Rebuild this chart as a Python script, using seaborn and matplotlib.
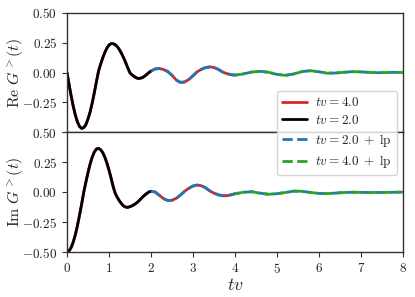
import numpy as np
import pandas as pd
import matplotlib
matplotlib.use("Agg")
import matplotlib.pyplot as plt
import seaborn as sns

# ---- data ----
t_vals = [0.00, 0.05, 0.10, 0.15, 0.20, 0.25, 0.30, 0.35, 0.40, 0.45,
          0.50, 0.55, 0.60, 0.65, 0.70, 0.75, 0.80, 0.85, 0.90, 0.95,
          1.00, 1.05, 1.10, 1.15, 1.20, 1.25, 1.30, 1.35, 1.40, 1.45,
          1.50, 1.55, 1.60, 1.65, 1.70, 1.75, 1.80, 1.85, 1.90, 1.95,
          2.0, 2.1, 2.2, 2.3, 2.4, 2.5, 2.6, 2.7, 2.8, 2.9,
          3.0, 3.1, 3.2, 3.3, 3.4, 3.5, 3.6, 3.7, 3.8, 3.9,
          4.0, 4.2, 4.4, 4.6, 4.8, 5.0, 5.2, 5.4, 5.6, 5.8,
          6.0, 6.2, 6.4, 6.6, 6.8, 7.0, 7.2, 7.4, 7.6, 7.8, 8.0]

re_vals = [0.000, -0.102, -0.199, -0.286, -0.360, -0.417, -0.454, -0.470, -0.463, -0.438,
           -0.390, -0.332, -0.257, -0.171, -0.078, 0.010, 0.069, 0.122, 0.168, 0.205,
           0.231, 0.243, 0.242, 0.233, 0.216, 0.191, 0.159, 0.122, 0.081, 0.036,
           -0.003, -0.021, -0.033, -0.045, -0.050, -0.048, -0.042, -0.030, -0.016, 0.000,
           0.012, 0.030, 0.033, 0.025, 0.008, -0.023, -0.063, -0.083, -0.080, -0.059,
           -0.027, 0.006, 0.027, 0.041, 0.047, 0.042, 0.027, 0.005, -0.009, -0.018,
           -0.022, -0.012, 0.004, 0.010, 0.002, -0.016, -0.024, -0.012, 0.008, 0.015,
           0.006, -0.006, -0.004, 0.002, 0.007, 0.005, 0.001, -0.002, 0.000, 0.001, 0.000]

im_vals = [-0.500, -0.490, -0.462, -0.416, -0.354, -0.278, -0.190, -0.098, 0.000, 0.083,
           0.162, 0.233, 0.290, 0.333, 0.358, 0.363, 0.353, 0.329, 0.291, 0.241,
           0.182, 0.115, 0.044, -0.013, -0.046, -0.075, -0.099, -0.117, -0.126, -0.128,
           -0.122, -0.115, -0.105, -0.093, -0.078, -0.060, -0.042, -0.026, -0.012, 0.000,
           0.006, 0.000, -0.028, -0.056, -0.071, -0.069, -0.053, -0.026, 0.006, 0.031,
           0.050, 0.058, 0.052, 0.035, 0.009, -0.010, -0.023, -0.031, -0.031, -0.024,
           -0.015, -0.002, 0.002, -0.010, -0.019, -0.014, -0.004, 0.007, 0.006, -0.004,
           -0.012, -0.013, -0.009, -0.004, -0.002, -0.003, -0.004, -0.004, -0.003, -0.002, -0.001]

series_labels = [r"$tv = 4.0$", r"$tv = 2.0$", r"$tv = 2.0\;+\;\mathrm{lp}$", r"$tv = 4.0\;+\;\mathrm{lp}$"]
series_ranges = [(0.0, 4.0), (0.0, 2.0), (2.0, 8.0), (4.0, 8.0)]
series_colors = ["#d62728", "#000000", "#1f77b4", "#2ca02c"]
series_styles = ["-", "-", "--", "--"]

x_ticks = [0, 1, 2, 3, 4, 5, 6, 7, 8]
y_ticks = [-0.50, -0.25, 0.00, 0.25, 0.50]

# ---- style ----
sns.set_style("ticks")
plt.rcParams.update({
    "font.family": ["serif", "DejaVu Serif"],
    "font.serif": ["cmr10", "DejaVu Serif"],
    "mathtext.fontset": "cm",
    "axes.formatter.use_mathtext": True,
    "axes.edgecolor": "#333333",
    "axes.linewidth": 1.0,
    "xtick.color": "#333333",
    "ytick.color": "#333333",
    "xtick.labelcolor": "#222222",
    "ytick.labelcolor": "#222222",
})

df = pd.DataFrame({"t": t_vals, "re": re_vals, "im": im_vals})

fig = plt.figure(figsize=(4.15, 2.97), dpi=100)
L, R = 67 / 415, 403 / 415
top_y, mid_y, bot_y = 1 - 13 / 297, 1 - 132 / 297, 1 - 252 / 297
ax1 = fig.add_axes([L, mid_y, R - L, top_y - mid_y])
ax2 = fig.add_axes([L, bot_y, R - L, mid_y - bot_y], sharex=ax1)

for ax, col in [(ax1, "re"), (ax2, "im")]:
    for lab, (a, b), c, ls in zip(series_labels, series_ranges, series_colors, series_styles):
        sub = df[(df["t"] >= a - 1e-9) & (df["t"] <= b + 1e-9)]
        sns.lineplot(data=sub, x="t", y=col, ax=ax, color=c, linestyle=ls,
                     linewidth=2.0, label=lab if ax is ax1 else None,
                     legend=False, estimator=None, sort=True)
    ax.set_xlim(0, 8)
    ax.set_ylim(-0.5, 0.5)
    ax.set_yticks(y_ticks)
    ax.set_yticklabels([f"${v:.2f}$" for v in y_ticks])
    ax.tick_params(labelsize=9.5, length=3.5, width=0.8)

ax1.set_xticks(x_ticks)
ax1.tick_params(labelbottom=False)
ax1.set_xlabel("")
ax1.get_yticklabels()[0].set_visible(False)
ax2.set_xticklabels([f"${v}$" for v in x_ticks])

ax1.set_ylabel(r"$\mathrm{Re}\ G^{>}(t)$", fontsize=11.5)
ax2.set_ylabel(r"$\mathrm{Im}\ G^{>}(t)$", fontsize=11.5)
lab_x = (26 - 67) / 336
ax1.yaxis.set_label_coords(lab_x, 0.5)
ax2.yaxis.set_label_coords(lab_x, 0.5)
ax2.set_xlabel(r"$tv$", fontsize=13, labelpad=1)

h, l = ax1.get_legend_handles_labels()
leg = fig.legend(h, l, loc="upper right", bbox_to_anchor=(397 / 415, 1 - 91 / 297),
                 borderaxespad=0, fontsize=9.5, frameon=True, framealpha=0.8,
                 edgecolor="#cccccc", handlelength=1.9, labelspacing=0.35,
                 borderpad=0.4, handletextpad=0.6)

fig.savefig("out.png", dpi=100)
